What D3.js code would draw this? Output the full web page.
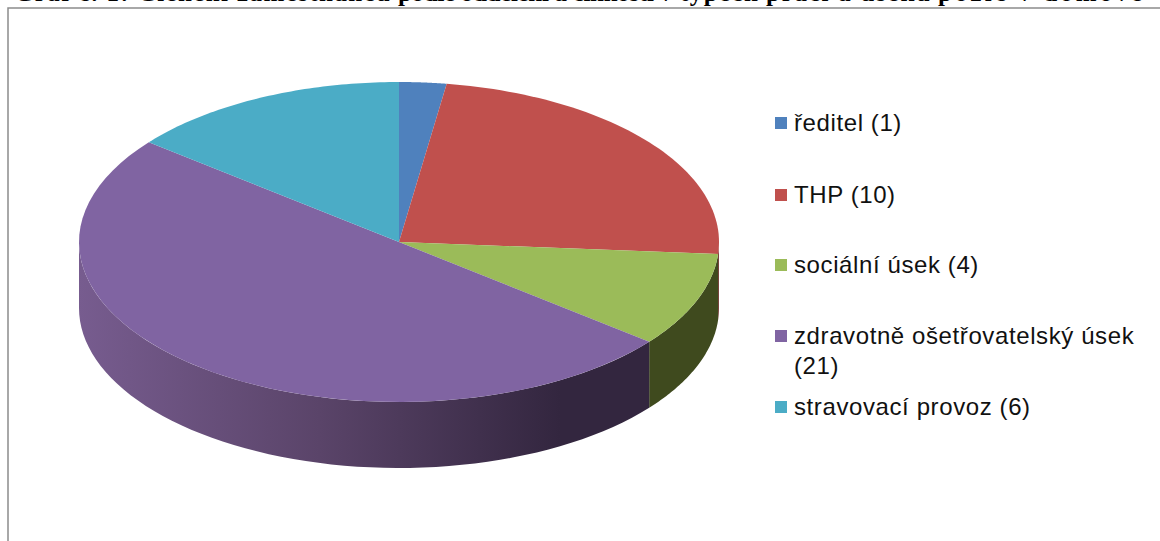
<!DOCTYPE html>
<html>
<head>
<meta charset="utf-8">
<script src="https://cdn.jsdelivr.net/npm/d3@7"></script>
<style>
html, body { margin: 0; padding: 0; background: white; overflow: hidden; }
.legendText { font-family: "Liberation Sans", Arial, sans-serif; font-size: 24px; letter-spacing: 0.6px; }
.title { font-family: "Liberation Serif", serif; font-size: 25px; font-weight: bold; }
</style>
</head>
<body>
<svg id="chart" width="1160" height="541"></svg>
<script>
const WIDTH = 1160, HEIGHT = 541

// pocty zamestnancu, cte se z legendy
const categories = ["ředitel", "THP", "sociální úsek", "zdravotně ošetřovatelský úsek", "stravovací provoz"]
const counts = [1, 10, 4, 21, 6]
const colors = ["#4f81bd", "#c0504d", "#9bbb59", "#8064a2", "#4bacc6"]
const legendLines = [["ředitel (1)"], ["THP (10)"], ["sociální úsek (4)"], ["zdravotně ošetřovatelský úsek", "(21)"], ["stravovací provoz (6)"]]
const titleParts = ["Graf č. 1: Členění zaměstnanců", "podle oddělení a činností v", "typech", "prací a úseků", "pozic v domově"]

const TITLE_X = [14, 398, 680, 766, 938, 1150]
const CX = 399, CY = 242, RX = 320, RY = 160, DEPTH = 66
const LEGEND_X = 775, SWATCH = 12
const LEGEND_Y = [123, 195, 265, 336, 407]

const svg = d3.select("#chart")
const defs = svg.append("defs")

// boky kolace jsou do prava tmavsi
const sideGrad = defs.append("linearGradient")
    .attr("id", "sidePurple")
    .attr("gradientUnits", "userSpaceOnUse")
    .attr("x1", CX - RX).attr("x2", 560)
    .attr("y1", 0).attr("y2", 0)
sideGrad.append("stop").attr("offset", 0).attr("stop-color", "#775c8f")
sideGrad.append("stop").attr("offset", 0.5).attr("stop-color", "#5a4469")
sideGrad.append("stop").attr("offset", 1).attr("stop-color", "#33263f")

// ramecek grafu
svg.append("path")
    .attr("d", d3.line()([[WIDTH, 8], [8, 8], [8, HEIGHT]]))
    .attr("fill", "none")
    .attr("stroke", "#8c8c8c")
    .attr("stroke-width", 1.5)

// nadpis je nahore oriznuty, jako v predloze
svg.selectAll(".title")
    .data(titleParts)
    .enter()
    .append("text")
    .classed("title", true)
    .attr("x", (d, i) => TITLE_X[i])
    .attr("y", 1)
    .attr("textLength", (d, i) => TITLE_X[i + 1] - TITLE_X[i] - 8)
    .attr("lengthAdjust", "spacing")
    .text(d => d)

const pie = d3.pie().sort(null).startAngle(0).endAngle(2 * Math.PI)
const arcs = pie(counts)

const xScale = d3.scaleLinear().domain([-1, 1]).range([CX - RX, CX + RX])
const yScale = d3.scaleLinear().domain([-1, 1]).range([CY - RY, CY + RY])

// pocita se po smeru hodin od vrcholu, rez jde do elipsy
function rimPoints(a0, a1, dy) {
    const steps = d3.range(0, 61).map(i => a0 + (a1 - a0) * i / 60)
    return steps.map(a => [xScale(Math.sin(a)), yScale(-Math.cos(a)) + dy])
}

// boky: jen spodni pulka elipsy je videt
function sidePath(d) {
    const a0 = Math.max(d.startAngle, Math.PI / 2)
    const a1 = Math.min(d.endAngle, 3 * Math.PI / 2)
    if (a1 <= a0) return null
    const top = rimPoints(a0, a1, 0)
    const bottom = rimPoints(a0, a1, DEPTH).reverse()
    return d3.line()(top.concat(bottom)) + "Z"
}

function topPath(d) {
    return d3.line()([[CX, CY]].concat(rimPoints(d.startAngle, d.endAngle, 0))) + "Z"
}

const sideColors = { 2: "#3f4a1e", 3: "url(#sidePurple)" }

svg.selectAll(".side")
    .data(arcs.filter(d => sidePath(d)))
    .enter()
    .append("path")
    .classed("side", true)
    .attr("d", sidePath)
    .attr("fill", d => sideColors[d.index] || d3.color(colors[d.index]).darker(1.5))

svg.selectAll(".slice")
    .data(arcs)
    .enter()
    .append("path")
    .classed("slice", true)
    .attr("d", topPath)
    .attr("fill", d => colors[d.index])

svg.selectAll(".legendFigure")
    .data(categories)
    .enter()
    .append("rect")
    .classed("legendFigure", true)
    .attr("x", LEGEND_X)
    .attr("y", (d, i) => LEGEND_Y[i] - SWATCH / 2)
    .attr("width", SWATCH)
    .attr("height", SWATCH)
    .attr("fill", (d, i) => colors[i])

const legendText = svg.selectAll(".legendText")
    .data(legendLines)
    .enter()
    .append("text")
    .classed("legendText", true)
    .attr("fill", "#111")
    .attr("y", (d, i) => LEGEND_Y[i] + 8)

legendText.selectAll("tspan")
    .data(d => d)
    .enter()
    .append("tspan")
    .attr("x", LEGEND_X + 19)
    .attr("dy", (d, i) => i ? 30 : 0)
    .text(d => d)
</script>
</body>
</html>
